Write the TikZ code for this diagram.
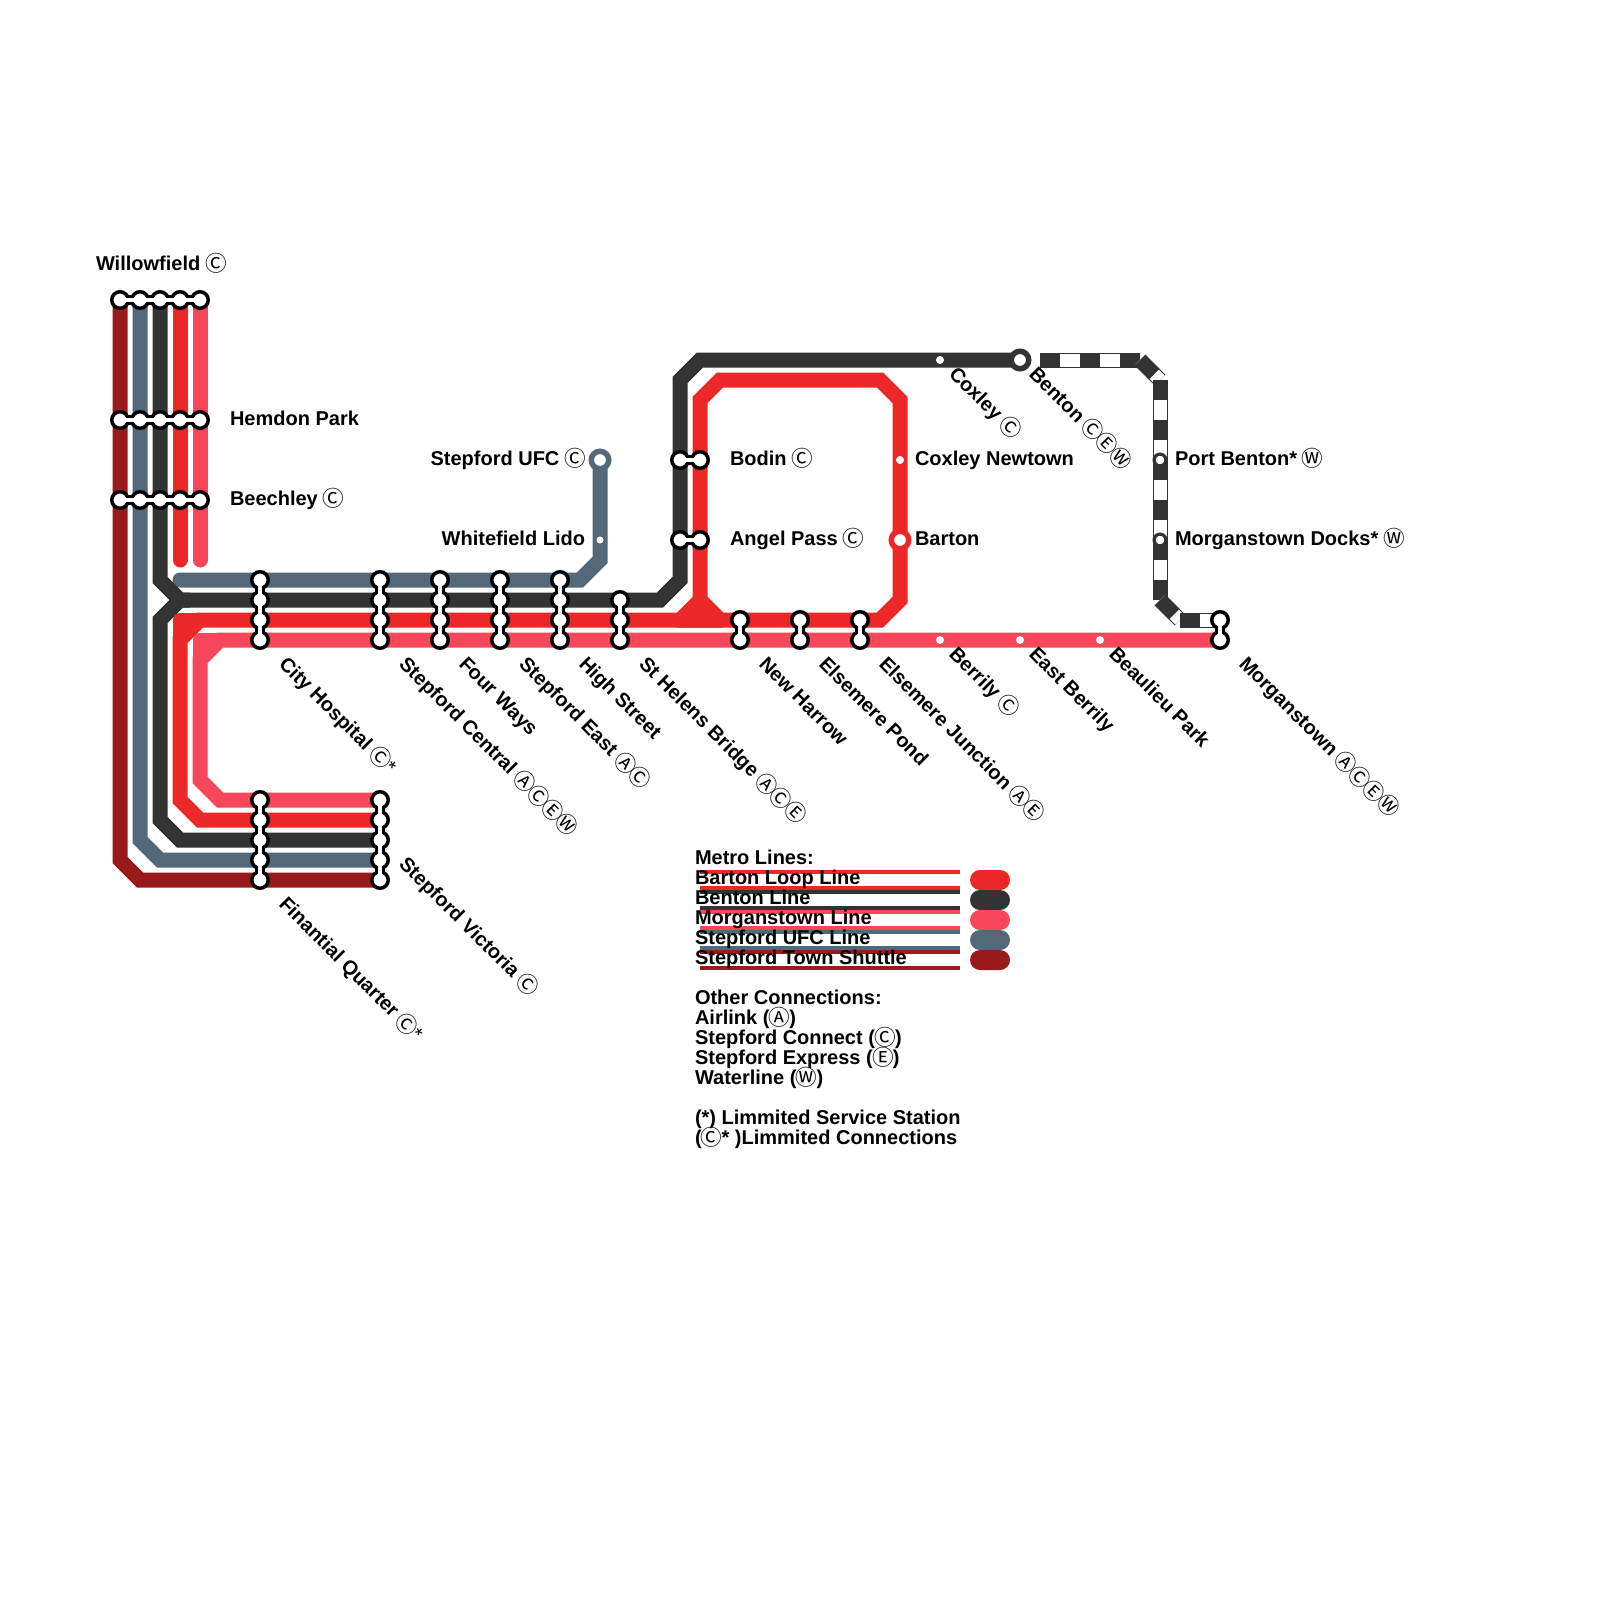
\documentclass[tikz,border=0pt]{standalone}
\usepackage{fontspec}
\setmainfont{Liberation Sans}
\newfontfamily\circfont[Scale=1.08]{Noto Sans CJK SC}
\definecolor{cred}{HTML}{EB2727}
\definecolor{cdark}{HTML}{333333}
\definecolor{cpink}{HTML}{F8475B}
\definecolor{cslate}{HTML}{53697A}
\definecolor{cmaroon}{HTML}{991A1A}
\newcommand{\CA}{\makebox[10pt][c]{\raisebox{-0.5pt}{\mdseries\circfont Ⓐ}}}
\newcommand{\CC}{\makebox[10pt][c]{\raisebox{-0.5pt}{\mdseries\circfont Ⓒ}}}
\newcommand{\CE}{\makebox[10pt][c]{\raisebox{-0.5pt}{\mdseries\circfont Ⓔ}}}
\newcommand{\CW}{\makebox[10pt][c]{\raisebox{-0.5pt}{\mdseries\circfont Ⓦ}}}
\tikzset{
  metro/.style={line width=7.5pt,line join=miter,line cap=butt,draw=#1},
  metroround/.style={line width=7.5pt,line join=round,line cap=round,draw=#1},
  barout/.style={line width=5.25pt,draw=black},
  barin/.style={line width=1.75pt,draw=white},
  stn/.style={circle,draw=black,fill=white,line width=1.75pt,minimum size=8.25pt,inner sep=0pt,outer sep=0pt},
  dot/.style={circle,fill=white,minimum size=4pt,inner sep=0pt,outer sep=0pt},
  smalldot/.style={circle,fill=white,minimum size=3.5pt,inner sep=0pt,outer sep=0pt},
  ring/.style={circle,draw=#1,fill=white,line width=2.75pt,minimum size=8.75pt,inner sep=0pt,outer sep=0pt},
  thinring/.style={circle,draw=cdark,fill=white,line width=1.6pt,minimum size=5.9pt,inner sep=0pt,outer sep=0pt},
  lbl/.style={font=\bfseries\fontsize{10pt}{10pt}\selectfont,inner sep=0pt,outer sep=0pt,anchor=base west},
  lblr/.style={lbl,anchor=base east},
  diag/.style={lbl,rotate=-45},
  legstripe/.style={line width=2pt,draw=#1},
  pill/.style={rounded corners=5pt,fill=#1,draw=none},
  dashbase/.style={line width=7.5pt,draw=cdark},
  dashwhite/.style={line width=6.5pt,draw=white},
  dashtop/.style={line width=7.5pt,draw=cdark,dash pattern=on 10pt off 10pt},
}
\newcommand{\StnV}[4]{% prefix, x, y top, y bottom
  \pgfmathtruncatemacro{\nxt}{#3+20}
  \coordinate (#1-a) at (#2,#3);
  \coordinate (#1-b) at (#2,#4);
  \draw[barout] (#1-a) -- (#1-b);
  \foreach \yy in {#3,\nxt,...,#4} {\node[stn] (#1-\yy) at (#2,\yy) {};}
  \draw[barin] (#1-a) -- (#1-b);
}
\newcommand{\StnH}[4]{% prefix, y, x left, x right
  \pgfmathtruncatemacro{\nxt}{#3+20}
  \coordinate (#1-a) at (#3,#2);
  \coordinate (#1-b) at (#4,#2);
  \draw[barout] (#1-a) -- (#1-b);
  \foreach \xx in {#3,\nxt,...,#4} {\node[stn] (#1-\xx) at (\xx,#2) {};}
  \draw[barin] (#1-a) -- (#1-b);
}
\newcommand{\Dashed}[3]{% from, to, name
  \draw[dashbase] (#1) -- (#2);
  \draw[dashwhite] (#1) -- (#2);
  \draw[dashtop] (#1) -- (#2);
}
\begin{document}
\begin{tikzpicture}[x=0.5pt,y=-0.5pt]
\useasboundingbox (0,0) rectangle (1600,1600);
% Shuttle
\draw[metro=cmaroon] (120,300) -- (120,860) -- (140,880) -- (380,880);
% UFC
\draw[metro=cslate] (140,300) -- (140,840) -- (160,860) -- (380,860);
\draw[metro=cslate,line cap=round] (180,580) -- (580,580) -- (600,560) -- (600,460);
% Benton
\draw[metro=cdark] (160,300) -- (160,580) -- (180,600) -- (660,600) -- (680,580) -- (680,380) -- (700,360) -- (1020,360);
\draw[metro=cdark] (190,600) -- (180,600) -- (160,620) -- (160,820) -- (180,840) -- (380,840);
% Benton dashed branch
\coordinate (d0) at (1040,360);\coordinate (d1) at (1140,360);\coordinate (d2) at (1160,380);
\coordinate (d3) at (1160,600);\coordinate (d4) at (1180,620);\coordinate (d5) at (1220,620);
\Dashed{d0}{d1}{}
\Dashed{d1}{d2}{}
\Dashed{d2}{d3}{}
\Dashed{d3}{d4}{}
\Dashed{d4}{d5}{}
% Barton
\draw[metro=cred,line cap=round] (180,300) -- (180,560);
\draw[metro=cred] (380,820) -- (200,820) -- (180,800) -- (180,640) -- (200,620) -- (880,620) -- (900,600) -- (900,400) -- (880,380) -- (720,380) -- (700,400) -- (700,600) -- (720,620);
\draw[metroround=cred] (180,640) -- (180,620) -- (200,620);
\fill[cred] (677,612.5) -- (692.5,597) -- (707.5,597) -- (723,612.5) -- (723,627.5) -- (677,627.5) -- cycle;
% Morganstown
\draw[metro=cpink,line cap=round] (200,300) -- (200,560);
\draw[metro=cpink] (380,800) -- (220,800) -- (200,780) -- (200,660) -- (220,640) -- (1220,640);
\draw[metroround=cpink] (200,660) -- (200,640) -- (220,640);
% Interchange stations
\StnH{willow}{300}{120}{200}
\StnH{hemdon}{420}{120}{200}
\StnH{beech}{500}{120}{200}
\StnV{city}{260}{580}{640}
\StnV{central}{380}{580}{640}
\StnV{four}{440}{580}{640}
\StnV{east}{500}{580}{640}
\StnV{high}{560}{580}{640}
\StnV{helens}{620}{600}{640}
\StnV{harrow}{740}{620}{640}
\StnV{pond}{800}{620}{640}
\StnV{junction}{860}{620}{640}
\StnV{morgan}{1220}{620}{640}
\StnV{fq}{260}{800}{880}
\StnV{victoria}{380}{800}{880}
\StnH{bodin}{460}{680}{700}
\StnH{angel}{540}{680}{700}
% Simple stations
\node[dot] (coxley) at (940,360) {};
\node[dot] (coxleyn) at (900,460) {};
\node[dot] (berrily) at (940,640) {};
\node[dot] (eberrily) at (1020,640) {};
\node[dot] (beaulieu) at (1100,640) {};
\node[smalldot] (lido) at (600,540) {};
\node[ring=cred] (barton) at (900,540) {};
\node[ring=cdark] (benton) at (1020,360) {};
\node[ring=cslate] (ufc) at (600,460) {};
\node[thinring] (portb) at (1160,460) {};
\node[thinring] (docks) at (1160,540) {};
% Horizontal labels
\node[lbl] (lwillow) at (96,270) {Willowfield \CC};
\node[lbl] (lhemdon) at (230,425) {Hemdon Park};
\node[lbl] (lbeech) at (230,505) {Beechley \CC};
\node[lblr] (lufc) at (585,465) {Stepford UFC \CC};
\node[lblr] (llido) at (585,545) {Whitefield Lido};
\node[lbl] (lbodin) at (730,465) {Bodin \CC};
\node[lbl] (langel) at (730,545) {Angel Pass \CC};
\node[lbl] (lcoxn) at (915,465) {Coxley Newtown};
\node[lbl] (lbarton) at (915,545) {Barton};
\node[lbl] (lportb) at (1175,465) {Port Benton* \CW};
\node[lbl] (ldocks) at (1175,545) {Morganstown Docks* \CW};
% Diagonal labels
\node[diag] (lcity) at (278,665) {City Hospital \CC{\mdseries*}};
\node[diag] (lcentral) at (398,665) {Stepford Central \CA\CC\CE\CW};
\node[diag] (lfour) at (458,665) {Four Ways};
\node[diag] (least) at (518,665) {Stepford East \CA\CC};
\node[diag] (lhigh) at (578,665) {High Street};
\node[diag] (lhelens) at (638,665) {St Helens Bridge \CA\CC\CE};
\node[diag] (lharrow) at (758,665) {New Harrow};
\node[diag] (lpond) at (818,665) {Elsemere Pond};
\node[diag] (ljunction) at (878,665) {Elsemere Junction \CA\CE};
\node[diag] (lberrily) at (948,655) {Berrily \CC};
\node[diag] (leberrily) at (1028,655) {East Berrily};
\node[diag] (lbeaulieu) at (1108,655) {Beaulieu Park};
\node[diag] (lmorgan) at (1238,665) {Morganstown \CA\CC\CE\CW};
\node[diag] (lfq) at (278,905) {Finantial Quarter \CC{\mdseries*}};
\node[diag] (lvict) at (398,865) {Stepford Victoria \CC};
\node[diag] (lcoxley) at (948,375) {Coxley \CC};
\node[diag] (lbenton) at (1028,375) {Benton \CC\CE\CW};
% Legend stripes and pills
\foreach \nm/\c/\t/\b in {a/cred/872/888,b/cdark/892/908,c/cpink/912/928,d/cslate/932/948,e/cmaroon/952/968}{
  \coordinate (s\nm1) at (700,\t);\coordinate (s\nm2) at (960,\t);
  \coordinate (s\nm3) at (700,\b);\coordinate (s\nm4) at (960,\b);
  \draw[legstripe=\c] (s\nm1) -- (s\nm2);
  \draw[legstripe=\c] (s\nm3) -- (s\nm4);
}
\fill[pill=cred] (970,870) rectangle (1010,890);
\fill[pill=cdark] (970,890) rectangle (1010,910);
\fill[pill=cpink] (970,910) rectangle (1010,930);
\fill[pill=cslate] (970,930) rectangle (1010,950);
\fill[pill=cmaroon] (970,950) rectangle (1010,970);
% Legend text
\node[lbl] (t1) at (695,864.5) {Metro Lines:};
\node[lbl] (t2) at (695,884.5) {Barton Loop Line};
\node[lbl] (t3) at (695,904.5) {Benton Line};
\node[lbl] (t4) at (695,924.5) {Morganstown Line};
\node[lbl] (t5) at (695,944.5) {Stepford UFC Line};
\node[lbl] (t6) at (695,964.5) {Stepford Town Shuttle};
\node[lbl] (t7) at (695,1004.5) {Other Connections:};
\node[lbl] (t8) at (695,1024.5) {Airlink (\CA)};
\node[lbl] (t9) at (695,1044.5) {Stepford Connect (\CC)};
\node[lbl] (t10) at (695,1064.5) {Stepford Express (\CE)};
\node[lbl] (t11) at (695,1084.5) {Waterline (\CW)};
\node[lbl] (t12) at (695,1124.5) {(*) Limmited Service Station};
\node[lbl] (t13) at (695,1144.5) {(\CC* )Limmited Connections};
\end{tikzpicture}
\end{document}
